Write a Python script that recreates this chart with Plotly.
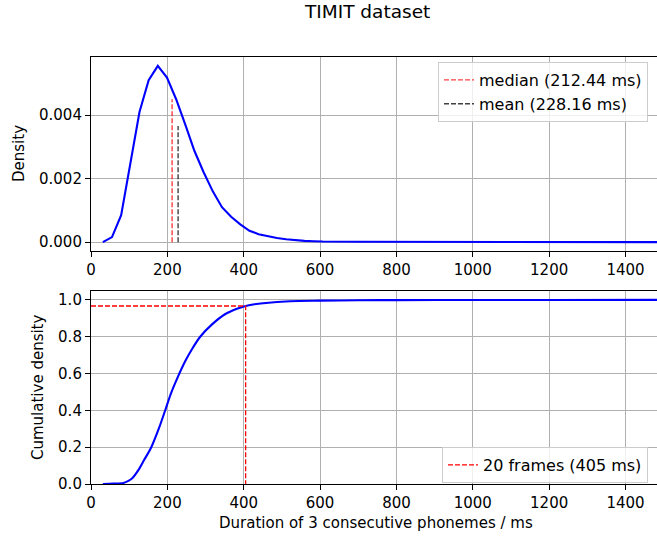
import plotly.graph_objects as go

# ---- data ----
density_x = [31, 55, 79, 103, 127, 151, 175, 199, 223, 247, 271, 295, 319, 343,
             367, 391, 415, 439, 463, 487, 511, 535, 559, 583, 607, 700, 800,
             900, 1000, 1100, 1200, 1300, 1400, 1500]
density_y = [0.0, 0.00016, 0.00085, 0.0025, 0.0041, 0.0051, 0.00555, 0.00518,
             0.0045, 0.0037, 0.00287, 0.0022, 0.0016, 0.0011, 0.0008, 0.00056,
             0.00036, 0.00025, 0.00018, 0.00013, 0.00009, 0.00006, 0.00004,
             0.00003, 0.00002, 0.000012, 0.000008, 0.000005, 0.000004,
             0.000003, 0.000002, 0.000002, 0.000001, 0.000001]

cdf_x = [31, 58, 85, 98, 108, 124, 139, 158, 178, 194, 209, 225, 247, 264, 286,
         317, 351, 382, 403, 428, 451, 521, 600, 700, 800, 1000, 1200, 1500]
cdf_y = [0.0, 0.002, 0.006, 0.017, 0.031, 0.075, 0.130, 0.200, 0.303, 0.398,
         0.490, 0.570, 0.668, 0.731, 0.800, 0.867, 0.922, 0.952, 0.966, 0.976,
         0.982, 0.993, 0.996, 0.998, 0.999, 0.9995, 0.9998, 1.0]

median_ms = 212.44
mean_ms = 228.16
median_height = 0.0045
mean_height = 0.00366
frames_ms = 405
frames_cdf = 0.967

x_ticks = [0, 200, 400, 600, 800, 1000, 1200, 1400]
density_ticks = [0.000, 0.002, 0.004]
cdf_ticks = [0.0, 0.2, 0.4, 0.6, 0.8, 1.0]

FONT = "DejaVu Sans"
FS = 15
LFS = 16
W, H = 657, 540
L = 91

fig = go.Figure()

fig.add_trace(go.Scatter(x=density_x, y=density_y, mode="lines",
                         line=dict(color="#0000ff", width=2.1),
                         showlegend=False, xaxis="x", yaxis="y", hoverinfo="skip"))
fig.add_trace(go.Scatter(x=[median_ms, median_ms], y=[0, median_height], mode="lines",
                         line=dict(color="rgba(255,0,0,0.75)", width=1.4, dash="5px,2px"),
                         name="median (212.44 ms)", legendgroup="a",
                         xaxis="x", yaxis="y", legend="legend"))
fig.add_trace(go.Scatter(x=[mean_ms, mean_ms], y=[0, mean_height], mode="lines",
                         line=dict(color="rgba(0,0,0,0.75)", width=1.4, dash="5px,2px"),
                         name="mean (228.16 ms)", legendgroup="b",
                         xaxis="x", yaxis="y", legend="legend"))

fig.add_trace(go.Scatter(x=cdf_x, y=cdf_y, mode="lines",
                         line=dict(color="#0000ff", width=2.1, shape="spline", smoothing=0.8),
                         showlegend=False, xaxis="x2", yaxis="y2", hoverinfo="skip"))
fig.add_trace(go.Scatter(x=[0, frames_ms, frames_ms], y=[frames_cdf, frames_cdf, 0],
                         mode="lines",
                         line=dict(color="#ff0000", width=1.3, dash="5px,2px"),
                         name="20 frames (405 ms)", xaxis="x2", yaxis="y2", legend="legend2"))

pw = W - L
xmax = pw / 0.3818

axis_common = dict(
    showgrid=True, gridcolor="#b0b0b0", gridwidth=1.1,
    showline=True, linecolor="black", linewidth=1.1,
    ticks="outside", ticklen=5, tickwidth=1.1, tickcolor="black",
    tickfont=dict(family=FONT, size=FS, color="black"),
    zeroline=False, automargin=False,
)

legend_common = dict(
    bgcolor="rgba(255,255,255,0.8)", bordercolor="#cccccc", borderwidth=1,
    font=dict(family=FONT, size=LFS, color="black"),
    xanchor="right", yanchor="top", tracegroupgap=0,
)

fig.update_layout(
    width=W, height=H,
    margin=dict(l=L, r=0, t=0, b=0),
    paper_bgcolor="white", plot_bgcolor="white",
    font=dict(family=FONT, size=FS, color="black"),
    xaxis=dict(**axis_common, range=[0, xmax], tickvals=x_ticks, mirror=True,
               domain=[0, 1], anchor="y"),
    yaxis=dict(**axis_common, range=[-0.000278, 0.00583], tickvals=density_ticks,
               tickformat=".3f", domain=[1 - 251 / H, 1 - 57 / H], anchor="x"),
    xaxis2=dict(**axis_common, range=[0, xmax], tickvals=x_ticks, mirror=True,
                domain=[0, 1], anchor="y2"),
    yaxis2=dict(**axis_common, range=[0, 1.05], tickvals=cdf_ticks,
                tickformat=".1f", domain=[1 - 484 / H, 1 - 290.7 / H], anchor="x2"),
    legend=dict(**legend_common, x=(648 - L) / pw, y=1 - 62 / H),
    legend2=dict(**legend_common, x=(648 - L) / pw, y=1 - 447 / H),
    showlegend=True,
    annotations=[
        dict(text="TIMIT dataset", xref="paper", yref="paper",
             x=(367 - L) / pw, y=1 - 11 / H, xanchor="center", yanchor="middle",
             showarrow=False, font=dict(family=FONT, size=18.5, color="black")),
        dict(text="Density", xref="paper", yref="paper",
             x=(19 - L) / pw, y=1 - 154 / H, xanchor="center", yanchor="middle",
             textangle=-90, showarrow=False,
             font=dict(family=FONT, size=FS, color="black")),
        dict(text="Cumulative density", xref="paper", yref="paper",
             x=(38 - L) / pw, y=1 - 387 / H, xanchor="center", yanchor="middle",
             textangle=-90, showarrow=False,
             font=dict(family=FONT, size=FS, color="black")),
        dict(text="Duration of 3 consecutive phonemes / ms", xref="paper", yref="paper",
             x=(376 - L) / pw, y=1 - 523 / H, xanchor="center", yanchor="middle",
             showarrow=False, font=dict(family=FONT, size=FS, color="black")),
    ],
)

fig.write_html("out.html", config={"displayModeBar": False},
               post_script="document.body.style.margin='0';")
